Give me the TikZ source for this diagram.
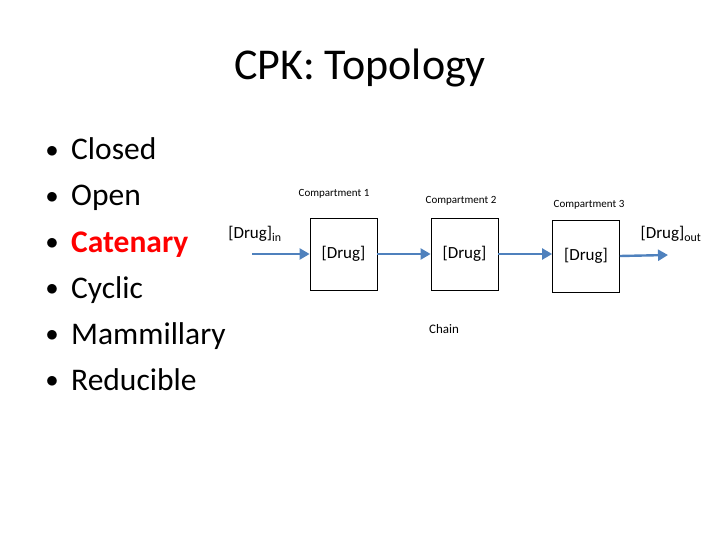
\documentclass[tikz,border=0pt]{standalone}
\usepackage{fontspec}
\setmainfont{Carlito}
\usetikzlibrary{arrows.meta}
\begin{document}
\begin{tikzpicture}[x=1pt,y=-1pt,
 box/.style={draw,thick,minimum width=67pt,minimum height=72pt,inner sep=0,font=\fontsize{17}{20}\selectfont},
 lab/.style={font=\fontsize{11}{13}\selectfont},
 arr/.style={draw={rgb,255:red,79;green,129;blue,189},line width=2.4pt,-{Triangle[length=10pt,width=11pt]}},
 item/.style={anchor=base west,font=\fontsize{31.5}{36}\selectfont,inner sep=0}]
\useasboundingbox (0,0) rectangle (720,540);
\node[font=\fontsize{44}{50}\selectfont] (title) at (360,68) {CPK: Topology};
\foreach \t/\c [count=\i] in {Closed/black,Open/black,Catenary/red,Cyclic/black,Mammillary/black,Reducible/black}{
 \node[item,text=\c] (it\i) at (71,160+46*\i-46) {\ifnum\i=3 \textbf{\t}\else\t\fi};
 \node[font=\fontsize{24}{28}\selectfont] (b\i) at (52,152+46*\i-46) {$\bullet$};
}
\node[box] (c1) at (343.5,254) {[Drug]};
\node[box] (c2) at (464.5,254) {[Drug]};
\node[box] (c3) at (586,256) {[Drug]};
\node[lab] (l1) at (334,194) {Compartment 1};
\node[lab] (l2) at (461,201) {Compartment 2};
\node[lab] (l3) at (589,205) {Compartment 3};
\node[lab,font=\fontsize{13}{15}\selectfont] (chain) at (444,329) {Chain};
\node[font=\fontsize{17}{20}\selectfont] (in) at (255,234) {[Drug]$_{\mathrm{in}}$};
\node[font=\fontsize{17}{20}\selectfont] (out) at (671,234) {[Drug]$_{\mathrm{out}}$};
\coordinate (s) at (252,254);
\coordinate (e) at (668,255);
\draw[arr] (s) -- (c1.west);
\draw[arr] (c1.east) -- (c2.west);
\draw[arr] (c2.east) -- (c3.west|-c2.east);
\draw[arr] (c3.east) -- (e);
\end{tikzpicture}
\end{document}
